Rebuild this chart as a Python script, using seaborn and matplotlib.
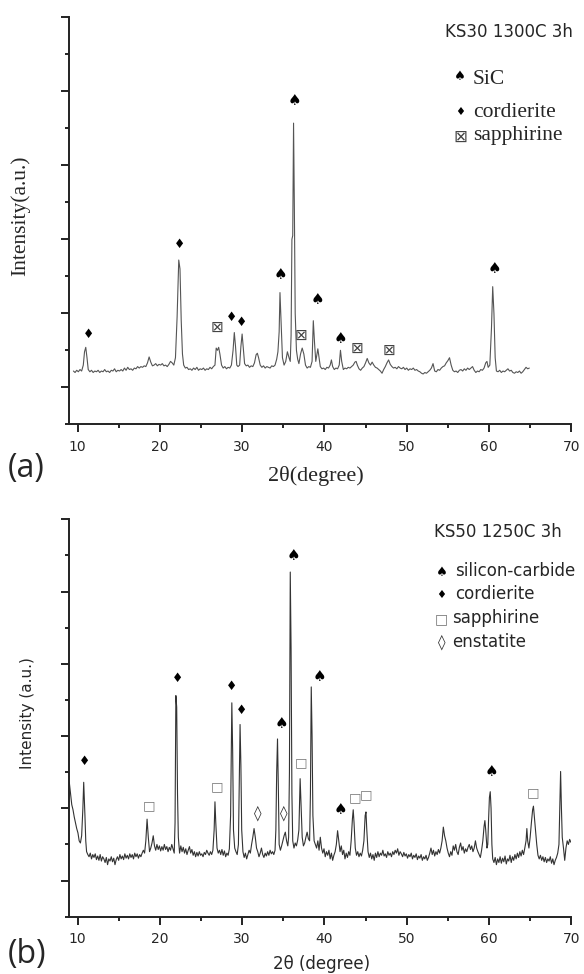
import matplotlib
matplotlib.use("Agg")
import matplotlib.pyplot as plt
import seaborn as sns
import pandas as pd
from matplotlib.ticker import MultipleLocator, NullFormatter

# ---------------- data ----------------
# Panel (a): KS30 1300C 3h trace  (2theta, intensity a.u.)
trace_a = [
    (9.5, 0.22), (9.7, 0.20), (9.9, 0.23), (10.1, 0.21), (10.3, 0.24), (10.5, 0.22), (10.7, 0.30),
    (10.85, 0.48), (11.0, 0.54), (11.15, 0.40), (11.3, 0.24), (11.5, 0.21), (11.7, 0.23), (11.9, 0.20),
    (12.1, 0.22), (12.3, 0.21), (12.5, 0.23), (12.7, 0.20), (12.9, 0.22), (13.1, 0.21), (13.3, 0.24),
    (13.5, 0.21), (13.7, 0.22), (13.9, 0.20), (14.1, 0.23), (14.3, 0.22), (14.5, 0.25), (14.7, 0.21),
    (14.9, 0.23), (15.1, 0.22), (15.3, 0.24), (15.5, 0.22), (15.7, 0.26), (15.9, 0.23), (16.1, 0.27),
    (16.3, 0.24), (16.5, 0.25), (16.7, 0.23), (16.9, 0.26), (17.1, 0.25), (17.3, 0.28), (17.5, 0.26),
    (17.7, 0.28), (17.9, 0.27), (18.1, 0.29), (18.3, 0.28), (18.5, 0.33), (18.7, 0.41), (18.9, 0.34),
    (19.1, 0.29), (19.3, 0.30), (19.5, 0.32), (19.7, 0.29), (19.9, 0.31), (20.1, 0.30), (20.3, 0.32),
    (20.5, 0.29), (20.7, 0.30), (20.9, 0.28), (21.1, 0.31), (21.3, 0.35), (21.5, 0.33), (21.7, 0.30),
    (21.9, 0.40), (22.1, 0.95), (22.3, 1.72), (22.45, 1.60), (22.6, 0.90), (22.75, 0.45), (22.9, 0.30),
    (23.1, 0.26), (23.3, 0.27), (23.5, 0.24), (23.7, 0.25), (23.9, 0.23), (24.1, 0.26), (24.3, 0.24),
    (24.5, 0.27), (24.7, 0.23), (24.9, 0.25), (25.1, 0.24), (25.3, 0.26), (25.5, 0.23), (25.7, 0.25),
    (25.9, 0.24), (26.1, 0.27), (26.3, 0.25), (26.5, 0.28), (26.7, 0.30), (26.85, 0.53), (27.0, 0.50),
    (27.15, 0.54), (27.3, 0.45), (27.5, 0.30), (27.7, 0.26), (27.9, 0.28), (28.1, 0.25), (28.3, 0.27),
    (28.5, 0.26), (28.7, 0.30), (28.9, 0.50), (29.05, 0.74), (29.2, 0.55), (29.35, 0.30), (29.5, 0.28),
    (29.7, 0.30), (29.85, 0.55), (30.0, 0.72), (30.15, 0.52), (30.3, 0.32), (30.5, 0.29), (30.7, 0.30),
    (30.9, 0.27), (31.1, 0.29), (31.3, 0.28), (31.5, 0.33), (31.7, 0.44), (31.85, 0.46), (32.0, 0.40),
    (32.2, 0.30), (32.4, 0.27), (32.6, 0.29), (32.8, 0.26), (33.0, 0.28), (33.2, 0.27), (33.4, 0.26),
    (33.6, 0.29), (33.8, 0.28), (34.0, 0.30), (34.2, 0.38), (34.35, 0.48), (34.5, 0.75), (34.6, 1.28),
    (34.75, 0.85), (34.9, 0.40), (35.1, 0.30), (35.3, 0.35), (35.5, 0.48), (35.7, 0.40), (35.85, 0.35),
    (35.95, 0.70), (36.05, 2.00), (36.15, 2.05), (36.25, 3.57), (36.35, 2.40), (36.45, 1.00), (36.6, 0.50),
    (36.75, 0.38), (36.9, 0.32), (37.1, 0.45), (37.3, 0.53), (37.5, 0.45), (37.7, 0.30), (37.9, 0.26),
    (38.1, 0.28), (38.3, 0.27), (38.5, 0.35), (38.65, 0.90), (38.8, 0.60), (38.95, 0.35), (39.1, 0.45),
    (39.2, 0.52), (39.35, 0.40), (39.5, 0.28), (39.7, 0.25), (39.9, 0.26), (40.1, 0.24), (40.3, 0.27),
    (40.5, 0.26), (40.7, 0.30), (40.85, 0.37), (41.0, 0.28), (41.2, 0.24), (41.4, 0.26), (41.6, 0.25),
    (41.8, 0.30), (41.95, 0.50), (42.1, 0.35), (42.3, 0.24), (42.5, 0.26), (42.7, 0.25), (42.9, 0.27),
    (43.1, 0.26), (43.3, 0.28), (43.5, 0.30), (43.7, 0.34), (43.85, 0.35), (44.0, 0.30), (44.2, 0.25),
    (44.4, 0.23), (44.6, 0.26), (44.8, 0.28), (45.0, 0.33), (45.2, 0.39), (45.4, 0.33), (45.6, 0.30),
    (45.8, 0.34), (46.0, 0.30), (46.2, 0.27), (46.4, 0.26), (46.6, 0.24), (46.8, 0.22), (47.0, 0.19),
    (47.2, 0.24), (47.4, 0.28), (47.6, 0.33), (47.8, 0.37), (48.0, 0.31), (48.2, 0.28), (48.4, 0.26),
    (48.6, 0.27), (48.8, 0.25), (49.0, 0.28), (49.2, 0.26), (49.4, 0.25), (49.6, 0.27), (49.8, 0.24),
    (50.0, 0.26), (50.2, 0.23), (50.4, 0.25), (50.6, 0.24), (50.8, 0.26), (51.0, 0.23), (51.2, 0.24),
    (51.4, 0.22), (51.6, 0.21), (51.8, 0.19), (52.0, 0.18), (52.2, 0.20), (52.4, 0.19), (52.6, 0.21),
    (52.8, 0.23), (53.0, 0.26), (53.2, 0.32), (53.4, 0.22), (53.6, 0.21), (53.8, 0.24), (54.0, 0.23),
    (54.2, 0.26), (54.4, 0.28), (54.6, 0.29), (54.8, 0.33), (55.0, 0.36), (55.2, 0.40), (55.4, 0.30),
    (55.6, 0.23), (55.8, 0.21), (56.0, 0.22), (56.2, 0.20), (56.4, 0.23), (56.6, 0.24), (56.8, 0.22),
    (57.0, 0.25), (57.2, 0.23), (57.4, 0.26), (57.6, 0.24), (57.8, 0.26), (58.0, 0.28), (58.2, 0.23),
    (58.4, 0.20), (58.6, 0.22), (58.8, 0.21), (59.0, 0.24), (59.2, 0.23), (59.4, 0.26), (59.6, 0.33),
    (59.75, 0.35), (59.9, 0.27), (60.1, 0.30), (60.3, 0.80), (60.45, 1.36), (60.6, 1.00), (60.75, 0.40),
    (60.9, 0.22), (61.1, 0.21), (61.3, 0.23), (61.5, 0.20), (61.7, 0.22), (61.9, 0.21), (62.1, 0.23),
    (62.3, 0.25), (62.5, 0.22), (62.7, 0.23), (62.9, 0.20), (63.1, 0.19), (63.3, 0.21), (63.5, 0.20),
    (63.7, 0.22), (63.9, 0.19), (64.1, 0.21), (64.3, 0.24), (64.5, 0.27), (64.7, 0.25), (64.9, 0.26),
]

# Panel (b): KS50 1250C 3h trace
trace_b = [
    (9.0, 1.36), (9.15, 1.20), (9.3, 1.05), (9.45, 0.98), (9.6, 0.88), (9.75, 0.80), (9.9, 0.72),
    (10.05, 0.66), (10.2, 0.55), (10.35, 0.52), (10.5, 0.62), (10.65, 1.00), (10.75, 1.36), (10.9, 0.90),
    (11.0, 0.55), (11.1, 0.40), (11.25, 0.36), (11.4, 0.33), (11.55, 0.38), (11.7, 0.30), (11.85, 0.36),
    (12.0, 0.32), (12.15, 0.37), (12.3, 0.29), (12.45, 0.34), (12.6, 0.28), (12.75, 0.36), (12.9, 0.27),
    (13.05, 0.33), (13.2, 0.30), (13.35, 0.25), (13.5, 0.32), (13.65, 0.22), (13.8, 0.30), (13.95, 0.27),
    (14.1, 0.33), (14.25, 0.26), (14.4, 0.31), (14.55, 0.22), (14.7, 0.29), (14.85, 0.33), (15.0, 0.28),
    (15.15, 0.36), (15.3, 0.30), (15.45, 0.34), (15.6, 0.29), (15.75, 0.37), (15.9, 0.31), (16.05, 0.35),
    (16.2, 0.30), (16.35, 0.37), (16.5, 0.32), (16.65, 0.36), (16.8, 0.30), (16.95, 0.38), (17.1, 0.33),
    (17.25, 0.37), (17.4, 0.31), (17.55, 0.36), (17.7, 0.33), (17.85, 0.38), (18.0, 0.42), (18.15, 0.38),
    (18.3, 0.55), (18.45, 0.85), (18.6, 0.60), (18.75, 0.40), (18.9, 0.45), (19.05, 0.52), (19.2, 0.62),
    (19.35, 0.48), (19.5, 0.42), (19.65, 0.50), (19.8, 0.43), (19.95, 0.48), (20.1, 0.41), (20.25, 0.47),
    (20.4, 0.42), (20.55, 0.50), (20.7, 0.43), (20.85, 0.47), (21.0, 0.40), (21.15, 0.46), (21.3, 0.42),
    (21.45, 0.50), (21.6, 0.44), (21.75, 0.38), (21.85, 0.80), (21.95, 2.56), (22.05, 2.40), (22.15, 1.20),
    (22.25, 0.60), (22.4, 0.38), (22.55, 0.48), (22.7, 0.40), (22.85, 0.46), (23.0, 0.38), (23.15, 0.44),
    (23.3, 0.36), (23.45, 0.42), (23.6, 0.47), (23.75, 0.38), (23.9, 0.43), (24.05, 0.35), (24.2, 0.40),
    (24.35, 0.33), (24.5, 0.39), (24.65, 0.34), (24.8, 0.40), (24.95, 0.35), (25.1, 0.37), (25.25, 0.33),
    (25.4, 0.39), (25.55, 0.36), (25.7, 0.42), (25.85, 0.38), (26.0, 0.35), (26.15, 0.40), (26.3, 0.36),
    (26.45, 0.42), (26.6, 0.70), (26.7, 1.09), (26.8, 0.80), (26.95, 0.45), (27.1, 0.38), (27.25, 0.42),
    (27.4, 0.36), (27.55, 0.43), (27.7, 0.35), (27.85, 0.41), (28.0, 0.33), (28.15, 0.38), (28.3, 0.35),
    (28.45, 0.44), (28.6, 0.90), (28.75, 2.46), (28.85, 1.80), (28.95, 0.70), (29.1, 0.45), (29.25, 0.40),
    (29.4, 0.36), (29.55, 0.50), (29.65, 1.30), (29.75, 2.16), (29.85, 1.60), (29.95, 0.70), (30.1, 0.40),
    (30.25, 0.32), (30.4, 0.38), (30.55, 0.30), (30.7, 0.36), (30.85, 0.42), (31.0, 0.38), (31.15, 0.50),
    (31.3, 0.60), (31.45, 0.72), (31.6, 0.60), (31.75, 0.45), (31.9, 0.40), (32.05, 0.33), (32.2, 0.38),
    (32.35, 0.45), (32.5, 0.36), (32.65, 0.32), (32.8, 0.38), (32.95, 0.34), (33.1, 0.40), (33.25, 0.35),
    (33.4, 0.42), (33.55, 0.37), (33.7, 0.40), (33.85, 0.36), (34.0, 0.42), (34.1, 0.70), (34.2, 1.50),
    (34.3, 1.96), (34.4, 1.30), (34.5, 0.50), (34.65, 0.42), (34.8, 0.48), (34.95, 0.55), (35.1, 0.62),
    (35.25, 0.67), (35.4, 0.55), (35.55, 0.48), (35.65, 0.60), (35.75, 1.50), (35.85, 4.27), (35.95, 3.20),
    (36.05, 1.20), (36.15, 0.55), (36.3, 0.45), (36.45, 0.52), (36.6, 0.48), (36.75, 0.56), (36.9, 0.70),
    (37.0, 1.20), (37.05, 1.41), (37.15, 1.10), (37.3, 0.60), (37.45, 0.48), (37.6, 0.52), (37.75, 0.60),
    (37.9, 0.67), (38.05, 0.58), (38.2, 0.55), (38.3, 1.20), (38.4, 2.68), (38.5, 2.00), (38.6, 0.90),
    (38.75, 0.55), (38.9, 0.50), (39.05, 0.45), (39.2, 0.55), (39.35, 0.42), (39.5, 0.60), (39.65, 0.45),
    (39.8, 0.38), (39.95, 0.44), (40.1, 0.33), (40.25, 0.40), (40.4, 0.35), (40.55, 0.42), (40.7, 0.30),
    (40.85, 0.38), (41.0, 0.28), (41.15, 0.35), (41.3, 0.40), (41.45, 0.50), (41.6, 0.69), (41.75, 0.55),
    (41.9, 0.40), (42.05, 0.48), (42.2, 0.36), (42.35, 0.42), (42.5, 0.30), (42.65, 0.38), (42.8, 0.32),
    (42.95, 0.40), (43.1, 0.35), (43.25, 0.55), (43.4, 0.85), (43.5, 0.98), (43.6, 0.80), (43.75, 0.45),
    (43.9, 0.35), (44.05, 0.40), (44.2, 0.33), (44.35, 0.38), (44.5, 0.34), (44.65, 0.42), (44.8, 0.55),
    (44.95, 0.90), (45.05, 0.95), (45.15, 0.70), (45.3, 0.40), (45.45, 0.32), (45.6, 0.38), (45.75, 0.30),
    (45.9, 0.36), (46.05, 0.28), (46.2, 0.38), (46.35, 0.32), (46.5, 0.40), (46.65, 0.33), (46.8, 0.38),
    (46.95, 0.35), (47.1, 0.42), (47.25, 0.34), (47.4, 0.37), (47.55, 0.32), (47.7, 0.40), (47.85, 0.35),
    (48.0, 0.38), (48.15, 0.33), (48.3, 0.40), (48.45, 0.36), (48.6, 0.42), (48.75, 0.38), (48.9, 0.44),
    (49.05, 0.35), (49.2, 0.40), (49.35, 0.37), (49.5, 0.33), (49.65, 0.39), (49.8, 0.34), (49.95, 0.37),
    (50.1, 0.31), (50.25, 0.36), (50.4, 0.33), (50.55, 0.38), (50.7, 0.30), (50.85, 0.35), (51.0, 0.32),
    (51.15, 0.37), (51.3, 0.29), (51.45, 0.34), (51.6, 0.31), (51.75, 0.36), (51.9, 0.28), (52.05, 0.33),
    (52.2, 0.30), (52.35, 0.35), (52.5, 0.28), (52.65, 0.32), (52.8, 0.38), (52.95, 0.45), (53.1, 0.36),
    (53.25, 0.42), (53.4, 0.34), (53.55, 0.40), (53.7, 0.36), (53.85, 0.43), (54.0, 0.38), (54.15, 0.45),
    (54.3, 0.55), (54.45, 0.74), (54.6, 0.62), (54.75, 0.55), (54.9, 0.45), (55.05, 0.38), (55.2, 0.33),
    (55.35, 0.40), (55.5, 0.35), (55.65, 0.48), (55.8, 0.42), (55.95, 0.50), (56.1, 0.40), (56.25, 0.36),
    (56.4, 0.46), (56.55, 0.52), (56.7, 0.42), (56.85, 0.47), (57.0, 0.38), (57.15, 0.44), (57.3, 0.40),
    (57.45, 0.46), (57.6, 0.50), (57.75, 0.43), (57.9, 0.48), (58.05, 0.40), (58.2, 0.45), (58.35, 0.55),
    (58.5, 0.45), (58.65, 0.40), (58.8, 0.36), (58.95, 0.32), (59.1, 0.42), (59.25, 0.55), (59.4, 0.75),
    (59.5, 0.83), (59.6, 0.70), (59.75, 0.45), (59.85, 0.50), (59.95, 0.85), (60.05, 1.15), (60.15, 1.23),
    (60.25, 1.00), (60.35, 0.50), (60.45, 0.30), (60.6, 0.25), (60.75, 0.32), (60.9, 0.22), (61.05, 0.30),
    (61.2, 0.25), (61.35, 0.33), (61.5, 0.24), (61.65, 0.31), (61.8, 0.26), (61.95, 0.34), (62.1, 0.23),
    (62.25, 0.30), (62.4, 0.27), (62.55, 0.35), (62.7, 0.25), (62.85, 0.33), (63.0, 0.28), (63.15, 0.36),
    (63.3, 0.30), (63.45, 0.38), (63.6, 0.32), (63.75, 0.40), (63.9, 0.34), (64.05, 0.42), (64.2, 0.36),
    (64.35, 0.45), (64.5, 0.55), (64.6, 0.72), (64.7, 0.55), (64.85, 0.45), (65.0, 0.60), (65.15, 0.80),
    (65.3, 0.98), (65.4, 1.03), (65.5, 0.90), (65.65, 0.70), (65.8, 0.50), (65.95, 0.35), (66.1, 0.30),
    (66.25, 0.35), (66.4, 0.28), (66.55, 0.33), (66.7, 0.26), (66.85, 0.32), (67.0, 0.25), (67.15, 0.30),
    (67.3, 0.27), (67.45, 0.33), (67.6, 0.24), (67.75, 0.30), (67.9, 0.22), (68.05, 0.28), (68.2, 0.32),
    (68.35, 0.38), (68.5, 0.50), (68.6, 1.00), (68.7, 1.51), (68.8, 1.00), (68.9, 0.60), (69.05, 0.45),
    (69.2, 0.28), (69.35, 0.45), (69.5, 0.55), (69.65, 0.50), (69.8, 0.57), (69.95, 0.53),
]

# Phase labels placed over the peaks
marks_a_theta = [11.3, 22.4, 27.0, 28.7, 29.9, 34.6, 36.3, 37.2, 39.1, 42.0, 43.9, 47.9, 60.6]
marks_a_height = [0.72, 1.93, 0.81, 0.95, 0.88, 1.52, 3.87, 0.70, 1.19, 0.66, 0.53, 0.50, 1.61]
marks_a_phase = ["cordierite", "cordierite", "sapphirine", "cordierite", "cordierite", "SiC", "SiC",
                 "sapphirine", "SiC", "SiC", "sapphirine", "sapphirine", "SiC"]

marks_b_theta = [10.9, 18.7, 22.1, 27.0, 28.7, 29.9, 31.9, 34.8, 35.1, 36.2, 37.2, 39.4, 42.0, 43.7,
                 45.1, 60.3, 65.4]
marks_b_height = [1.65, 1.04, 2.79, 1.30, 2.69, 2.36, 0.93, 2.18, 0.93, 4.50, 1.63, 2.83, 0.98, 1.15,
                  1.19, 1.51, 1.21]
marks_b_phase = ["cordierite", "sapphirine", "cordierite", "sapphirine", "cordierite", "cordierite",
                 "enstatite", "silicon-carbide", "enstatite", "silicon-carbide", "sapphirine",
                 "silicon-carbide", "silicon-carbide", "sapphirine", "sapphirine", "silicon-carbide",
                 "sapphirine"]

legend_a = ["SiC", "cordierite", "sapphirine"]
legend_b = ["silicon-carbide", "cordierite", "sapphirine", "enstatite"]
title_a = "KS30 1300C 3h"
title_b = "KS50 1250C 3h"
x_ticks = [10, 20, 30, 40, 50, 60, 70]

# ---------------- styling ----------------
sns.set_style("ticks")
plt.rcParams['font.family'] = ['DejaVu Sans']
plt.rcParams['axes.linewidth'] = 1.4

SYM = {"SiC": "\u2660", "silicon-carbide": "\u2660", "cordierite": "\u2666",
       "sapphirine_a": "\u22A0", "sapphirine_b": "\u25A1", "enstatite": "\u25CA"}
SYM_STYLE = {"\u2660": dict(fontsize=11, color="black"),
             "\u2666": dict(fontsize=9, color="black"),
             "\u22A0": dict(fontsize=11, color="#444444"),
             "\u25A1": dict(fontsize=9.5, color="#777777"),
             "\u25CA": dict(fontsize=11, color="#333333")}

W, H = 584, 974
fig = plt.figure(figsize=(W / 100, H / 100), dpi=100)


def px_axes(l, t, r, b):
    return fig.add_axes([l / W, 1 - b / H, (r - l) / W, (b - t) / H])


def ftext(x, y, s, **kw):
    return fig.text(x / W, 1 - y / H, s, **kw)


ax_a = px_axes(69.3, 17.3, 571.3, 424.3)
ax_b = px_axes(69.3, 519.3, 571.3, 916.7)

df_a = pd.DataFrame(trace_a, columns=["theta", "intensity"])
df_b = pd.DataFrame(trace_b, columns=["theta", "intensity"])

sns.lineplot(data=df_a, x="theta", y="intensity", ax=ax_a, color="#555555", lw=0.8,
             estimator=None, sort=False)
sns.lineplot(data=df_b, x="theta", y="intensity", ax=ax_b, color="#333333", lw=0.8,
             estimator=None, sort=False)

for ax in (ax_a, ax_b):
    ax.set_xlim(9, 70)
    ax.set_ylim(-0.5, 5.0)
    ax.set_xticks(x_ticks)
    ax.xaxis.set_minor_locator(MultipleLocator(5))
    ax.yaxis.set_major_locator(MultipleLocator(1))
    ax.yaxis.set_minor_locator(MultipleLocator(0.5))
    ax.yaxis.set_major_formatter(NullFormatter())
    ax.set_xlabel("")
    ax.set_ylabel("")
    for side in ("top", "right"):
        ax.spines[side].set_visible(False)
    for side in ("left", "bottom"):
        ax.spines[side].set_color("#222222")
    ax.tick_params(which="major", direction="out", length=5.5, width=1.4, color="#222222",
                   labelsize=10, pad=5.5)
    ax.tick_params(which="minor", direction="out", length=2.7, width=1.4, color="#222222")
    ax.patch.set_alpha(0)

# peak labels
for t, h, p in zip(marks_a_theta, marks_a_height, marks_a_phase):
    s = SYM["sapphirine_a"] if p == "sapphirine" else SYM[p]
    ax_a.text(t, h, s, ha="center", va="center", family="DejaVu Sans", **SYM_STYLE[s])
for t, h, p in zip(marks_b_theta, marks_b_height, marks_b_phase):
    s = SYM["sapphirine_b"] if p == "sapphirine" else SYM[p]
    ax_b.text(t, h, s, ha="center", va="center", family="DejaVu Sans", **SYM_STYLE[s])

# ---------------- panel (a) texts ----------------
ftext(445, 36.7, title_a, fontsize=12, family="DejaVu Sans", va="baseline", ha="left")
a_sym = [SYM["SiC"], SYM["cordierite"], SYM["sapphirine_a"]]
a_sym_y = [77, 112, 136.5]
a_base = [84, 117, 140]
a_sym_size = [9.5, 8, 12]
for name, s, sy, by, fs in zip(legend_a, a_sym, a_sym_y, a_base, a_sym_size):
    st = dict(SYM_STYLE[s])
    st["fontsize"] = fs
    ftext(460, sy, s, ha="center", va="center", family="DejaVu Sans", **st)
    ftext(473, by, name, fontsize=15.5, family="Liberation Serif", va="baseline", ha="left")

ftext(20.5, 216, "Intensity(a.u.)", rotation=90, fontsize=15.5, family="Liberation Serif",
      ha="center", va="center")
ftext(316, 481, "2\u03b8(degree)", fontsize=16, family="Liberation Serif", ha="center", va="baseline")
ftext(8, 469, "(a)", fontsize=23, family="Open Sans", ha="left", va="center")

# ---------------- panel (b) texts ----------------
ftext(434.5, 537, title_b, fontsize=12, family="DejaVu Sans", va="baseline", ha="left")
b_sym = [SYM["silicon-carbide"], SYM["cordierite"], SYM["sapphirine_b"], SYM["enstatite"]]
b_sym_y = [573, 595, 619, 642]
b_base = [576, 599, 623, 647]
b_text_x = [455, 455, 452, 452]
b_sym_size = [9.5, 8, 10, 11]
for name, s, sy, by, tx, fs in zip(legend_b, b_sym, b_sym_y, b_base, b_text_x, b_sym_size):
    st = dict(SYM_STYLE[s])
    st["fontsize"] = fs
    ftext(441.5, sy, s, ha="center", va="center", family="DejaVu Sans", **st)
    ftext(tx, by, name, fontsize=12, family="DejaVu Sans", va="baseline", ha="left")

ftext(27.5, 713, "Intensity (a.u.)", rotation=90, fontsize=11, family="DejaVu Sans",
      ha="center", va="center")
ftext(322, 969, "2\u03b8 (degree)", fontsize=12, family="DejaVu Sans", ha="center", va="baseline")
ftext(8, 955, "(b)", fontsize=23, family="Open Sans", ha="left", va="center")

fig.savefig("out.png", dpi=100)
